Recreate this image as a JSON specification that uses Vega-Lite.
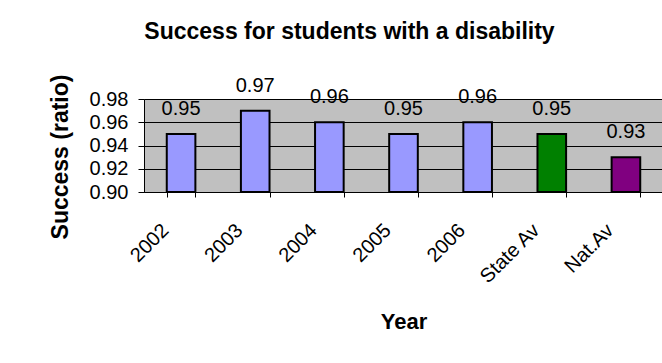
{
  "$schema": "https://vega.github.io/schema/vega-lite/v6.json",
  "width": 519,
  "height": 93,
  "autosize": {"type": "none"},
  "padding": {"left": 144, "top": 99, "right": 0, "bottom": 171},
  "background": "white",
  "config": {
    "font": "Liberation Sans",
    "view": {"fill": "#c0c0c0", "stroke": "#808080", "strokeWidth": 1}
  },
  "title": {
    "text": "Success for students with a disability",
    "font": "Liberation Sans",
    "fontSize": 23,
    "fontWeight": "bold",
    "color": "black",
    "anchor": "middle",
    "frame": "group",
    "dx": -54,
    "baseline": "alphabetic",
    "offset": 12
  },
  "data": {
    "values": [
      {"Year": "2002", "Success": 0.95, "Group": "year"},
      {"Year": "2003", "Success": 0.97, "Group": "year"},
      {"Year": "2004", "Success": 0.96, "Group": "year"},
      {"Year": "2005", "Success": 0.95, "Group": "year"},
      {"Year": "2006", "Success": 0.96, "Group": "year"},
      {"Year": "State Av", "Success": 0.95, "Group": "state"},
      {"Year": "Nat.Av", "Success": 0.93, "Group": "national"}
    ]
  },
  "encoding": {
    "x": {
      "field": "Year",
      "type": "nominal",
      "sort": null,
      "scale": {"paddingInner": 0.614, "paddingOuter": 0.307},
      "axis": {
        "title": "Year",
        "titleFont": "Liberation Sans",
        "titleFontSize": 22,
        "titleFontWeight": "bold",
        "titleColor": "black",
        "titleBaseline": "alphabetic",
        "titleY": 136.5,
        "labelFont": "Liberation Sans",
        "labelFontSize": 20,
        "labelColor": "black",
        "labelAngle": -45,
        "labelAlign": "right",
        "labelBaseline": "middle",
        "labelOffset": -16,
        "labelPadding": 30,
        "tickBand": "extent",
        "tickSize": 5,
        "tickColor": "black",
        "domainColor": "black",
        "grid": false
      }
    },
    "y": {
      "field": "Success",
      "type": "quantitative",
      "scale": {"domain": [0.9, 0.98], "zero": false, "nice": false},
      "axis": {
        "title": "Success (ratio)",
        "titleFont": "Liberation Sans",
        "titleFontSize": 23,
        "titleFontWeight": "bold",
        "titleColor": "black",
        "titleBaseline": "alphabetic",
        "titleAlign": "center",
        "titleAngle": -90,
        "titleX": -76.5,
        "titleY": 57.5,
        "values": [0.9, 0.92, 0.94, 0.96, 0.98],
        "format": ".2f",
        "labelFont": "Liberation Sans",
        "labelFontSize": 20,
        "labelColor": "black",
        "labelPadding": 10,
        "tickSize": 6,
        "tickColor": "black",
        "domainColor": "black",
        "grid": true,
        "gridColor": "black",
        "gridWidth": 1
      }
    }
  },
  "layer": [
    {
      "mark": {"type": "bar", "stroke": "black", "strokeWidth": 2},
      "encoding": {
        "y2": {"datum": 0.9},
        "color": {
          "field": "Group",
          "type": "nominal",
          "scale": {"domain": ["year", "state", "national"], "range": ["#9999ff", "#008000", "#800080"]},
          "legend": null
        }
      }
    },
    {
      "mark": {"type": "text", "font": "Liberation Sans", "fontSize": 20, "color": "black", "baseline": "alphabetic", "dy": -19, "clip": false},
      "encoding": {
        "text": {"field": "Success", "type": "quantitative", "format": ".2f"}
      }
    }
  ]
}
